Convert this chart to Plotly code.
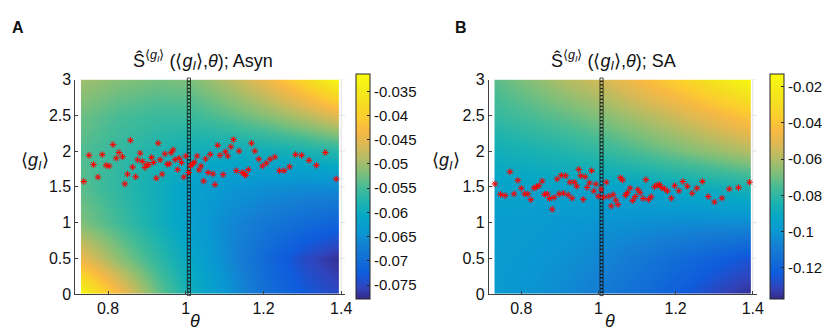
import plotly.graph_objects as go

# heatmap nodes (theta across, <g_I> up); values are read at these nodes
theta_nodes = [0.73, 0.825, 0.92, 1.015, 1.11, 1.205, 1.30, 1.395]
g_nodes = [0, 0.5, 1.0, 1.5, 2.0, 2.5, 3.0]

# panel A: S-hat, Asyn (rows bottom -> top)
z_asyn = [
    [-0.0329, -0.0431, -0.0524, -0.0593, -0.0644, -0.0695, -0.0728, -0.0751],
    [-0.0445, -0.0510, -0.0561, -0.0612, -0.0658, -0.0705, -0.0747, -0.0774],
    [-0.0519, -0.0552, -0.0589, -0.0626, -0.0658, -0.0682, -0.0700, -0.0714],
    [-0.0538, -0.0566, -0.0593, -0.0621, -0.0640, -0.0649, -0.0654, -0.0654],
    [-0.0542, -0.0561, -0.0579, -0.0593, -0.0598, -0.0593, -0.0584, -0.0570],
    [-0.0528, -0.0547, -0.0556, -0.0556, -0.0538, -0.0515, -0.0487, -0.0454],
    [-0.0500, -0.0515, -0.0524, -0.0519, -0.0487, -0.0445, -0.0389, -0.0324],
]

# panel B: S-hat, SA
z_sa = [
    [-0.0989, -0.1014, -0.1051, -0.1101, -0.1163, -0.1225, -0.1299, -0.1362],
    [-0.0989, -0.1001, -0.1026, -0.1063, -0.1113, -0.1163, -0.1212, -0.1262],
    [-0.0976, -0.0989, -0.1001, -0.1014, -0.1026, -0.1038, -0.1038, -0.1038],
    [-0.0939, -0.0939, -0.0939, -0.0939, -0.0927, -0.0902, -0.0877, -0.0840],
    [-0.0877, -0.0852, -0.0827, -0.0790, -0.0740, -0.0690, -0.0641, -0.0591],
    [-0.0790, -0.0752, -0.0715, -0.0665, -0.0603, -0.0541, -0.0467, -0.0392],
    [-0.0728, -0.0665, -0.0591, -0.0529, -0.0442, -0.0355, -0.0255, -0.0143],
]

# red stars
theta_asyn = [0.7375, 0.751, 0.7625, 0.774, 0.785, 0.795, 0.803, 0.8125, 0.821, 0.828,
              0.837, 0.843, 0.85, 0.8575, 0.863, 0.871, 0.876, 0.8825, 0.888, 0.895,
              0.90, 0.905, 0.912, 0.917, 0.924, 0.929, 0.934, 0.939, 0.946, 0.9525,
              0.9575, 0.962, 0.9675, 0.9725, 0.979, 0.983, 0.989, 0.995, 1.0, 1.0075,
              1.0125, 1.017, 1.0225, 1.029, 1.034, 1.039, 1.046, 1.051, 1.0575, 1.063,
              1.07, 1.075, 1.082, 1.088, 1.096, 1.102, 1.108, 1.116, 1.1225, 1.13,
              1.137, 1.145, 1.15, 1.154, 1.161, 1.169, 1.1775, 1.188, 1.197, 1.207,
              1.217, 1.229, 1.241, 1.253, 1.267, 1.2825, 1.298, 1.317, 1.336, 1.359,
              1.387]
g_asyn = [1.574, 1.94, 1.81, 1.635, 1.95, 1.80, 1.79, 2.09, 1.90, 1.98,
          1.92, 1.54, 1.676, 2.15, 1.775, 1.64, 1.877, 1.97, 1.855, 1.77,
          1.81, 1.81, 1.91, 1.84, 1.62, 2.11, 1.877, 1.676, 1.96, 1.815,
          1.82, 1.976, 2.016, 1.88, 1.74, 1.90, 1.84, 1.635, 1.93, 1.70,
          1.79, 1.82, 1.845, 1.93, 1.735, 1.79, 1.58, 1.89, 1.70, 1.953,
          1.68, 1.53, 2.08, 1.94, 1.67, 1.99, 1.93, 2.06, 2.16, 1.725,
          2.0, 1.70, 1.685, 1.66, 1.74, 2.11, 2.0, 1.886, 1.79, 1.83,
          1.886, 1.917, 1.725, 1.725, 1.78, 1.95, 1.94, 1.87, 1.80, 1.98,
          1.61]

theta_sa = [0.7316, 0.746, 0.758, 0.7706, 0.781, 0.791, 0.80, 0.8086, 0.817, 0.8245,
            0.833, 0.839, 0.8456, 0.854, 0.86, 0.8676, 0.873, 0.880, 0.885, 0.893,
            0.898, 0.904, 0.909, 0.915, 0.9215, 0.926, 0.9316, 0.9377, 0.9435, 0.949,
            0.9537, 0.9605, 0.9656, 0.9706, 0.977, 0.9823, 0.988, 0.9934, 0.9993, 1.0068,
            1.0137, 1.0203, 1.027, 1.033, 1.038, 1.0448, 1.0506, 1.0567, 1.0625, 1.070,
            1.075, 1.082, 1.0886, 1.0954, 1.102, 1.108, 1.1157, 1.123, 1.130, 1.1367,
            1.1453, 1.152, 1.158, 1.1638, 1.1714, 1.179, 1.189, 1.1975, 1.2086, 1.2187,
            1.2304, 1.243, 1.255, 1.2694, 1.2846, 1.3005, 1.32, 1.339, 1.363, 1.3916]
g_sa = [1.54, 1.394, 1.377, 1.71, 1.40, 1.59, 1.48, 1.40, 1.40, 1.32,
        1.48, 1.50, 1.515, 1.58, 1.394, 1.40, 1.336, 1.185, 1.35, 1.61,
        1.40, 1.66, 1.41, 1.654, 1.386, 1.564, 1.34, 1.564, 1.507, 1.743,
        1.654, 1.323, 1.64, 1.49, 1.555, 1.725, 1.44, 1.537, 1.367, 1.466,
        1.354, 1.564, 1.367, 1.23, 1.39, 1.314, 1.252, 1.627, 1.595, 1.38,
        1.417, 1.48, 1.306, 1.363, 1.46, 1.417, 1.336, 1.60, 1.32, 1.36,
        1.50, 1.524, 1.53, 1.488, 1.47, 1.44, 1.34, 1.515, 1.444, 1.574,
        1.507, 1.41, 1.48, 1.574, 1.363, 1.287, 1.34, 1.47, 1.488, 1.564]

# column of black squares at theta ~ 1
square_theta = 1.008
square_g = [0.0, 0.05, 0.1, 0.15, 0.2, 0.25, 0.3, 0.35, 0.4, 0.45,
            0.5, 0.55, 0.6, 0.65, 0.7, 0.75, 0.8, 0.85, 0.9, 0.95,
            1.0, 1.05, 1.1, 1.15, 1.2, 1.25, 1.3, 1.35, 1.4, 1.45,
            1.5, 1.55, 1.6, 1.65, 1.7, 1.75, 1.8, 1.85, 1.9, 1.95,
            2.0, 2.05, 2.1, 2.15, 2.2, 2.25, 2.3, 2.35, 2.4, 2.45,
            2.5, 2.55, 2.6, 2.65, 2.7, 2.75, 2.8, 2.85, 2.9, 2.95, 3.0]

x_ticks = [0.8, 1, 1.2, 1.4]
x_ticktext = ['0.8', '1', '1.2', '1.4']
y_ticks = [0, 0.5, 1, 1.5, 2, 2.5, 3]
y_ticktext = ['0', '0.5', '1', '1.5', '2', '2.5', '3']

cbar_a_vals = [-0.035, -0.04, -0.045, -0.05, -0.055, -0.06, -0.065, -0.07, -0.075]
cbar_a_text = ['-0.035', '-0.04', '-0.045', '-0.05', '-0.055', '-0.06', '-0.065', '-0.07', '-0.075']
cbar_b_vals = [-0.02, -0.04, -0.06, -0.08, -0.1, -0.12]
cbar_b_text = ['-0.02', '-0.04', '-0.06', '-0.08', '-0.1', '-0.12']

parula = [
    [0.000, 'rgb(53,42,135)'], [0.048, 'rgb(50,67,186)'], [0.111, 'rgb(15,92,221)'],
    [0.175, 'rgb(18,110,214)'], [0.238, 'rgb(20,128,211)'], [0.302, 'rgb(9,153,209)'],
    [0.365, 'rgb(6,167,199)'], [0.429, 'rgb(29,179,175)'], [0.492, 'rgb(66,187,152)'],
    [0.556, 'rgb(124,191,123)'], [0.619, 'rgb(174,189,103)'], [0.683, 'rgb(218,185,85)'],
    [0.746, 'rgb(248,185,67)'], [0.810, 'rgb(252,206,46)'], [0.873, 'rgb(245,222,33)'],
    [0.937, 'rgb(245,237,24)'], [1.000, 'rgb(249,251,14)']
]

FONT = 'Liberation Sans, Arial, sans-serif'
AXC = '#404040'
GRID = '#e3e3e3'
W, H = 830, 332
X_RANGE = [0.716, 1.41]
Y_DOM = [(H - 293) / H, (H - 67) / H]


def sub_dom(dom):
    # domain of the image part (theta_nodes span) inside an axes domain
    span = X_RANGE[1] - X_RANGE[0]
    a = dom[0] + (dom[1] - dom[0]) * (theta_nodes[0] - X_RANGE[0]) / span
    b = dom[0] + (dom[1] - dom[0]) * (theta_nodes[-1] - X_RANGE[0]) / span
    return [a, b]


fig = go.Figure()


def add_panel(z, th, gg, cmin, cmax, cvals, ctext, n_img, n_ax, cbx):
    xi, yi = 'x' + n_img, 'y' + n_img
    xa, ya = 'x' + n_ax, 'y' + n_ax
    fig.add_trace(go.Heatmap(
        x=theta_nodes, y=g_nodes, z=z, zsmooth='best',
        colorscale=parula, zmin=cmin, zmax=cmax, xaxis=xi, yaxis=yi,
        hoverinfo='skip',
        colorbar=dict(
            x=cbx, xanchor='left', y=1 - 180 / H, yanchor='middle',
            len=225, lenmode='pixels', thickness=14, thicknessmode='pixels',
            outlinecolor='#262626', outlinewidth=1,
            tickvals=cvals, ticktext=ctext, ticks='inside', ticklen=3,
            tickcolor='#262626', xpad=0, ypad=0,
            tickfont=dict(family=FONT, size=15, color='#111111'),
        ),
    ))
    fig.add_trace(go.Scatter(
        x=[square_theta] * len(square_g), y=square_g, mode='markers',
        marker=dict(symbol='square-open', size=3.2, color='#111111',
                    line=dict(width=0.75, color='#111111')),
        xaxis=xa, yaxis=ya, cliponaxis=False, showlegend=False, hoverinfo='skip',
    ))
    fig.add_trace(go.Scatter(
        x=th, y=gg, mode='markers',
        marker=dict(symbol='asterisk-open', size=5.5, color='red',
                    line=dict(width=1.0, color='red')),
        xaxis=xa, yaxis=ya, cliponaxis=False, showlegend=False,
    ))
    # grid showing in the strip right of the image
    fig.add_shape(type='line', xref=xa, yref=ya, x0=x_ticks[-1], x1=x_ticks[-1],
                  y0=0, y1=3, line=dict(color=GRID, width=1), layer='below')
    for gv in y_ticks[1:]:
        fig.add_shape(type='line', xref=xa, yref=ya, x0=theta_nodes[-1], x1=X_RANGE[1],
                      y0=gv, y1=gv, line=dict(color=GRID, width=1), layer='below')


add_panel(z_asyn, theta_asyn, g_asyn, -0.0779, -0.0315,
          cbar_a_vals, cbar_a_text, '', '3', 351 / W)
add_panel(z_sa, theta_sa, g_sa, -0.1374, -0.0131,
          cbar_b_vals, cbar_b_text, '2', '4', 768 / W)

dom_a = [68 / W, 340 / W]
dom_b = [485 / W, 755 / W]

hidden_x = dict(range=[theta_nodes[0], theta_nodes[-1]], visible=False, fixedrange=True)
hidden_y = dict(range=[0, 3], visible=False, domain=Y_DOM, fixedrange=True)

xax = dict(range=X_RANGE, tickvals=x_ticks, ticktext=x_ticktext,
           ticks='inside', ticklen=3, tickcolor=AXC, showline=True, linecolor=AXC,
           linewidth=1, showgrid=False, zeroline=False,
           tickfont=dict(family=FONT, size=16, color='#111111'))
yax = dict(range=[0, 3], tickvals=y_ticks, ticktext=y_ticktext, domain=Y_DOM,
           ticks='inside', ticklen=3, tickcolor=AXC, showline=True, linecolor=AXC,
           linewidth=1, showgrid=False, zeroline=False,
           tickfont=dict(family=FONT, size=16, color='#111111'))

fig.update_layout(
    width=W, height=H, margin=dict(l=0, r=0, t=0, b=0),
    paper_bgcolor='white', plot_bgcolor='rgba(0,0,0,0)', showlegend=False,
    xaxis=dict(domain=sub_dom(dom_a), anchor='y', **hidden_x),
    yaxis=dict(anchor='x', **hidden_y),
    xaxis2=dict(domain=sub_dom(dom_b), anchor='y2', **hidden_x),
    yaxis2=dict(anchor='x2', **hidden_y),
    xaxis3=dict(domain=dom_a, anchor='y3', **xax),
    yaxis3=dict(anchor='x3', **yax),
    xaxis4=dict(domain=dom_b, anchor='y4', **xax),
    yaxis4=dict(anchor='x4', **yax),
)

gI = '\u27e8<i>g</i><sub><i>I</i></sub>\u27e9'
notes = [
    (10.5, 12, '<b>A</b>', 16),
    (457, 12, '<b>B</b>', 16),
    (197, 47, '\u015c<sup>' + gI + '</sup> (' + gI + ',<i>\u03b8</i>); Asyn', 18),
    (611, 47, '\u015c<sup>' + gI + '</sup> (' + gI + ',<i>\u03b8</i>); SA', 18),
    (27, 153, gI, 18),
    (442, 153, gI, 18),
    (189, 321, '<i>\u03b8</i>', 18),
    (607, 321, '<i>\u03b8</i>', 18),
]
for px, py, txt, sz in notes:
    fig.add_annotation(x=px / W, y=1 - py / H, xref='paper', yref='paper',
                       text=txt, showarrow=False, xanchor='center', yanchor='middle',
                       font=dict(family=FONT, size=sz, color='#111111'))

fig.write_html("out.html")
